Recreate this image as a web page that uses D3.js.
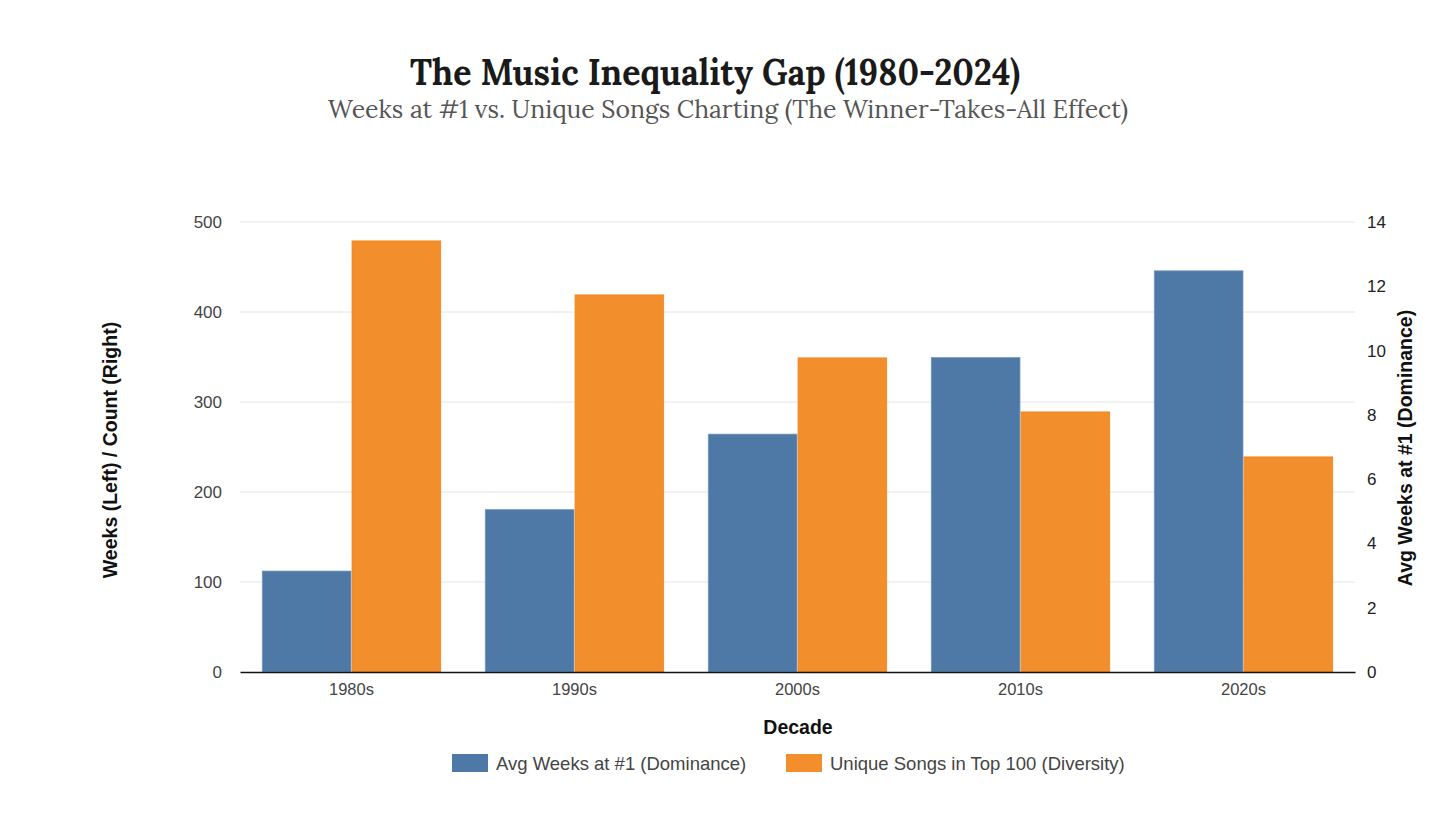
<!DOCTYPE html>
<html>
<head>
<meta charset="utf-8">
<script src="https://cdn.jsdelivr.net/npm/d3@7"></script>
<style>
  body { margin: 0; background: #fff; }
  svg { display: block; }
</style>
</head>
<body>
<svg id="chart" width="1456" height="819"></svg>
<script>
// data
const decades = ['1980s', '1990s', '2000s', '2010s', '2020s'];
const avgWeeks = [3.14, 5.05, 7.4, 9.78, 12.48];      // right axis
const uniqueSongs = [479, 419, 349, 289, 239];        // left axis
const leftTicks = [0, 100, 200, 300, 400, 500];
const rightTicks = [0, 2, 4, 6, 8, 10, 12, 14];
const seriesNames = ['Avg Weeks at #1 (Dominance)', 'Unique Songs in Top 100 (Diversity)'];
const seriesColors = ['#4e79a7', '#f28e2b'];
const seriesStroke = ['#6f93bd', '#f08519'];

const svg = d3.select('#chart');
const margin = { left: 240, right: 101, top: 222, bottom: 147 };
const W = 1456, H = 819;
const plotW = W - margin.left - margin.right;
const plotH = H - margin.top - margin.bottom;

const sans = 'Helvetica, Arial, "Liberation Sans", sans-serif';
const serif = 'Lora, Georgia, "DejaVu Serif", "Liberation Serif", serif';

// titles
svg.append('text')
  .attr('x', 715).attr('y', 85)
  .attr('text-anchor', 'middle')
  .attr('font-family', serif)
  .attr('font-weight', 'bold')
  .attr('font-size', 36)
  .attr('fill', '#1a1a1a')
  .attr('textLength', 610)
  .attr('lengthAdjust', 'spacingAndGlyphs')
  .text('The Music Inequality Gap (1980-2024)');

svg.append('text')
  .attr('x', 728).attr('y', 118)
  .attr('text-anchor', 'middle')
  .attr('font-family', serif)
  .attr('font-size', 24)
  .attr('fill', '#555')
  .attr('textLength', 800)
  .attr('lengthAdjust', 'spacingAndGlyphs')
  .text('Weeks at #1 vs. Unique Songs Charting (The Winner-Takes-All Effect)');

const g = svg.append('g').attr('transform', `translate(${margin.left},${margin.top})`);

const x0 = d3.scaleBand().domain(decades).range([0, plotW]).paddingInner(0.2).paddingOuter(0.1);
const x1 = d3.scaleBand().domain([0, 1]).range([0, x0.bandwidth()]).paddingInner(0.012);
const yLeft = d3.scaleLinear().domain([0, 500]).range([plotH, 0]);
const yRight = d3.scaleLinear().domain([0, 14]).range([plotH, 0]);

// gridlines
g.append('g')
  .selectAll('line')
  .data(leftTicks.slice(1))
  .join('line')
  .attr('x1', 0).attr('x2', plotW)
  .attr('y1', d => yLeft(d)).attr('y2', d => yLeft(d))
  .attr('stroke', '#e4e4e8')
  .attr('stroke-width', 1);

// bars
const groups = g.append('g')
  .selectAll('g')
  .data(decades)
  .join('g')
  .attr('transform', d => `translate(${x0(d)},0)`);

groups.append('rect')
  .attr('x', x1(0))
  .attr('width', x1.bandwidth())
  .attr('y', (d, i) => yRight(avgWeeks[i]))
  .attr('height', (d, i) => plotH - yRight(avgWeeks[i]))
  .attr('fill', seriesColors[0])
  .attr('stroke', seriesStroke[0])
  .attr('stroke-width', 0.8);

groups.append('rect')
  .attr('x', x1(1))
  .attr('width', x1.bandwidth())
  .attr('y', (d, i) => yLeft(uniqueSongs[i]))
  .attr('height', (d, i) => plotH - yLeft(uniqueSongs[i]))
  .attr('fill', seriesColors[1])
  .attr('stroke', seriesStroke[1])
  .attr('stroke-width', 0.8);

// axes
const leftAxis = g.append('g')
  .call(d3.axisLeft(yLeft).tickValues(leftTicks).tickSize(0).tickPadding(18));
leftAxis.select('.domain').remove();
leftAxis.selectAll('text')
  .attr('font-family', sans).attr('font-size', 17).attr('fill', '#444');

const rightAxis = g.append('g')
  .attr('transform', `translate(${plotW},0)`)
  .call(d3.axisRight(yRight).tickValues(rightTicks).tickSize(0).tickPadding(12));
rightAxis.select('.domain').remove();
rightAxis.selectAll('text')
  .attr('font-family', sans).attr('font-size', 17).attr('fill', '#222');

const bottomAxis = g.append('g')
  .attr('transform', `translate(0,${plotH})`)
  .call(d3.axisBottom(x0).tickSize(0).tickPadding(11));
bottomAxis.select('.domain').attr('stroke', '#111').attr('stroke-width', 1.5);
bottomAxis.selectAll('text')
  .attr('font-family', sans).attr('font-size', 16.5).attr('fill', '#444');

// axis titles
svg.append('text')
  .attr('transform', `translate(117,${margin.top + plotH / 2 + 3}) rotate(-90)`)
  .attr('text-anchor', 'middle')
  .attr('font-family', sans).attr('font-weight', 'bold').attr('font-size', 19.5)
  .attr('fill', '#111')
  .text('Weeks (Left) / Count (Right)');

svg.append('text')
  .attr('transform', `translate(1412,${margin.top + plotH / 2 + 1}) rotate(-90)`)
  .attr('text-anchor', 'middle')
  .attr('font-family', sans).attr('font-weight', 'bold').attr('font-size', 19.5)
  .attr('fill', '#111')
  .text('Avg Weeks at #1 (Dominance)');

svg.append('text')
  .attr('x', 798).attr('y', 734)
  .attr('text-anchor', 'middle')
  .attr('font-family', sans).attr('font-weight', 'bold').attr('font-size', 19.5)
  .attr('fill', '#111')
  .text('Decade');

// legend
const legendX = [452, 786];
const legend = svg.append('g')
  .selectAll('g')
  .data(seriesNames)
  .join('g')
  .attr('transform', (d, i) => `translate(${legendX[i]},754)`);
legend.append('rect')
  .attr('width', 36).attr('height', 18)
  .attr('fill', (d, i) => seriesColors[i]);
legend.append('text')
  .attr('x', 44).attr('y', 15.5)
  .attr('font-family', sans).attr('font-size', 18.5).attr('fill', '#444')
  .text(d => d);
</script>
</body>
</html>
